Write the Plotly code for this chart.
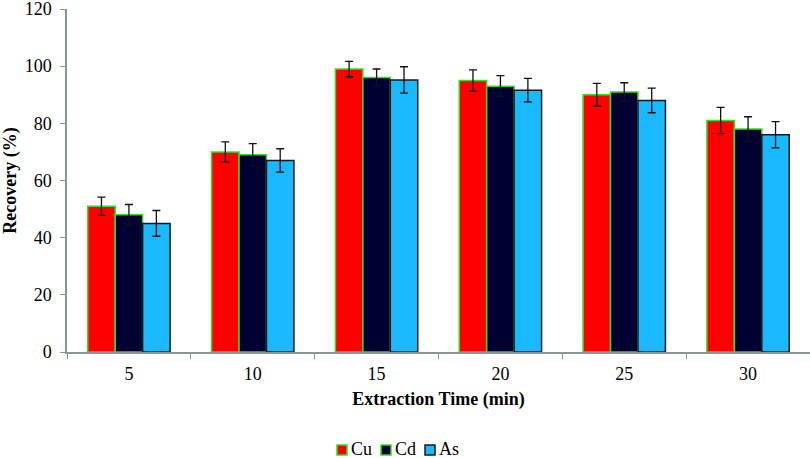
import plotly.graph_objects as go

categories = ["5", "10", "15", "20", "25", "30"]
cu = [51, 70, 99, 95, 90, 81]
cd = [48, 69, 96, 93, 91, 78]
as_ = [45, 67, 95.2, 91.6, 88, 76]
cu_err = [3.2, 3.5, 2.7, 3.7, 4.0, 4.6]
cd_err = [3.6, 3.9, 3.0, 3.7, 3.2, 4.3]
as_err = [4.5, 4.1, 4.6, 4.1, 4.3, 4.6]

series_names = ["Cu", "Cd", "As"]
fills = ["#FF0000", "#000033", "#1AB9FF"]
edges = ["#33DD22", "#33DD22", "#1a1a1a"]

font = "Liberation Serif"
W, H = 810, 458
L, R, T, B = 67, 0, 9, 106

def bar(name, y, err, fill, line):
    return go.Bar(
        name=name, x=categories, y=y, showlegend=False,
        marker=dict(color=fill, line=dict(color=line, width=1.5)),
        error_y=dict(type="data", array=err, visible=True, color="#111111", thickness=1.3, width=4),
    )

fig = go.Figure([
    bar(series_names[0], cu, cu_err, fills[0], edges[0]),
    bar(series_names[1], cd, cd_err, fills[1], edges[1]),
    bar(series_names[2], as_, as_err, fills[2], edges[2]),
])

# legend drawn as layout decoration (compact like the original)
pw, ph = W - L - R, H - T - B
def px(x):
    return (x - L) / pw
def py(y):
    return (H - B - y) / ph

leg_x = [337, 381, 425]
for i, name in enumerate(series_names):
    x0 = leg_x[i]
    fig.add_shape(type="rect", xref="paper", yref="paper",
                  x0=px(x0), x1=px(x0 + 10), y0=py(455), y1=py(445),
                  fillcolor=fills[i], line=dict(color=edges[i], width=1.5))
    fig.add_annotation(xref="paper", yref="paper", x=px(x0 + 13), y=py(449),
                       xanchor="left", yanchor="middle", showarrow=False, borderpad=0,
                       text=name, font=dict(family=font, size=18, color="black"))

fig.update_layout(
    width=W, height=H,
    margin=dict(l=L, r=R, t=T, b=B, autoexpand=False),
    paper_bgcolor="white", plot_bgcolor="white",
    barmode="group", bargap=0.335, bargroupgap=0,
    font=dict(family=font, size=18, color="black"),
    showlegend=False,
)
fig.update_xaxes(
    type="category", showline=True, linecolor="#8a9696", linewidth=1.5,
    ticks="outside", tickson="boundaries", ticklen=5, tickcolor="#8a9696",
    showgrid=False, tickfont=dict(family=font, size=18), automargin=False,
    ticklabelstandoff=5,
    title=dict(text="<b>Extraction Time (min)</b>", font=dict(family=font, size=18), standoff=9),
)
fig.update_yaxes(
    range=[0, 120], tick0=0, dtick=20, showline=True, linecolor="#8a9696", linewidth=1.5,
    ticks="outside", ticklen=5, tickcolor="#8a9696", showgrid=False, zeroline=False,
    tickfont=dict(family=font, size=18), automargin=False, ticklabeloverflow="allow",
    ticklabelstandoff=5,
    title=dict(text="<b>Recovery (%)</b>", font=dict(family=font, size=18), standoff=3),
)

fig.write_html("out.html")
